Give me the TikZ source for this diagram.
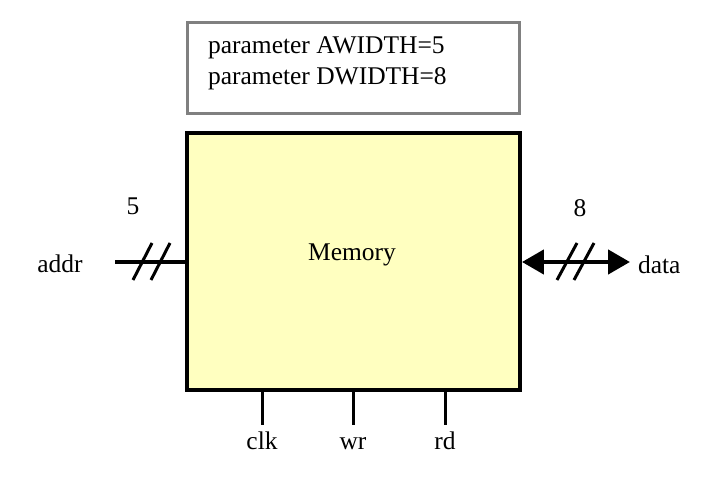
\documentclass[tikz,border=0pt]{standalone}
\usepackage{fontspec}
\setmainfont{Liberation Serif}
\usetikzlibrary{arrows.meta}
\definecolor{memfill}{RGB}{255,255,192}
\tikzstyle{block}=[draw,line width=0.08cm,fill=memfill,minimum width=6.66cm,minimum height=5.14cm,inner sep=0pt]
\tikzstyle{parambox}=[draw=gray,line width=0.06cm,minimum width=6.66cm,minimum height=1.84cm,inner sep=0pt]
\tikzstyle{pin} = [draw,line width=0.06cm,-]
\tikzstyle{bus} = [draw,line width=0.09cm,-]
\tikzstyle{label} = [font=\fontsize{14.5}{17.5}\selectfont,inner sep=1pt]
\tikzstyle{pinlabel} = [label,anchor=base,text height=2.7ex,text depth=0.3ex]
\newcommand{\pxunit}{0.02cm}

\begin{document}
\begin{tikzpicture}[x=\pxunit, y=-\pxunit]
    \path[use as bounding box] (0,0) rectangle (727,493);
    % First we draw the boxes
    \node[parambox] (params) at (353.5,68) {};
    \node[label,anchor=west,align=left] (paramtext) at (206,63)
        {parameter AWIDTH=5\\parameter DWIDTH=8};
    \node[block] (mem) at (353.5,261.5) {};
    \node[label] (memname) at (352,255) {Memory};
    % Address bus on the left
    \node[label] (addr) at (60,264) {addr};
    \node[label] (awidth) at (133,206) {5};
    \coordinate (addrend) at (115,262);
    \path[bus] (addrend) -- (addrend -| mem.west);
    \foreach \xs in {0,18}
        \draw[line width=0.06cm] (152+\xs,243) -- (133+\xs,280);
    % Data bus on the right
    \node[label,anchor=west] (data) at (636,265) {data};
    \node[label] (dwidth) at (580,208) {8};
    \coordinate (datatip) at (630,262);
    \path[bus,{Triangle[length=0.44cm,width=0.48cm]}-{Triangle[length=0.44cm,width=0.48cm]}]
        (datatip -| mem.east) -- (datatip);
    \foreach \xs in {0,17}
        \draw[line width=0.06cm] (577+\xs,243) -- (557+\xs,280);
    % Control pins at the bottom
    \foreach \xp/\name in {262/clk, 353/wr, 445/rd} {
        \coordinate (\name top) at (\xp,390);
        \node[pinlabel] (\name) at (\xp,449) {\name};
        \path[pin] (\name top) -- (\name.north);
    }
\end{tikzpicture}
\end{document}
